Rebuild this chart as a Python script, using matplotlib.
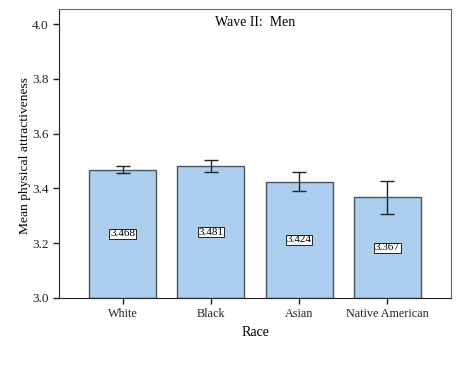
import matplotlib
matplotlib.use("Agg")
import matplotlib.pyplot as plt

# Data
races = ["White", "Black", "Asian", "Native American"]
means = [3.468, 3.481, 3.424, 3.367]
err_low = [3.455, 3.459, 3.389, 3.307]
err_high = [3.481, 3.504, 3.460, 3.427]

plt.rcParams["font.family"] = ["Liberation Serif", "DejaVu Serif"]

fig = plt.figure(figsize=(4.6, 3.68), dpi=100)
ax = fig.add_axes([59 / 460, 1 - 298 / 368, 392 / 460, 289 / 368])

x = list(range(len(races)))
yerr = [[m - lo for m, lo in zip(means, err_low)],
        [hi - m for m, hi in zip(means, err_high)]]

ax.bar(x, [m - 3.0 for m in means], bottom=3.0, width=0.76,
       color="#abcdee", edgecolor="#4a5560", linewidth=1.0, zorder=2)
ax.errorbar(x, means, yerr=yerr, fmt="none", ecolor="#222222",
            elinewidth=1.0, capsize=4.8, capthick=1.0, zorder=3)

for xi, m in zip(x, means):
    ax.text(xi, (3.0 + m) / 2, f"{m:.3f}", ha="center", va="center",
            fontsize=8,
            bbox=dict(boxstyle="square,pad=0.06", facecolor="white",
                      edgecolor="#222222", linewidth=0.7), zorder=4)

ax.set_xlim(-0.72, 3.72)
ax.set_ylim(3.0, 4.055)
ax.set_yticks([3.0, 3.2, 3.4, 3.6, 3.8, 4.0])
ax.set_yticklabels(["3.0", "3.2", "3.4", "3.6", "3.8", "4.0"])
ax.set_xticks(x)
ax.set_xticklabels(races)
ax.tick_params(axis="y", direction="out", length=4, width=1,
               labelsize=9.5, colors="#222222")
ax.tick_params(axis="x", direction="out", length=4, width=1,
               labelsize=8.7, colors="#222222")

for s in ["left", "bottom"]:
    ax.spines[s].set_color("#222222")
for s in ["top", "right"]:
    ax.spines[s].set_color("#666666")

ax.text(0.5, 0.975, "Wave II:  Men", transform=ax.transAxes,
        ha="center", va="top", fontsize=10)
ax.set_xlabel("Race", fontsize=10)
ax.set_ylabel("Mean physical attractiveness", fontsize=9.7)
ax.yaxis.set_label_coords(-34 / 392, 0.5 + (152 - 153.5) / 289)
ax.xaxis.set_label_coords(0.5, -(332 - 298) / 289)
ax.xaxis.label.set_va("center")
ax.yaxis.label.set_va("center")

fig.savefig("out.png", dpi=100)
